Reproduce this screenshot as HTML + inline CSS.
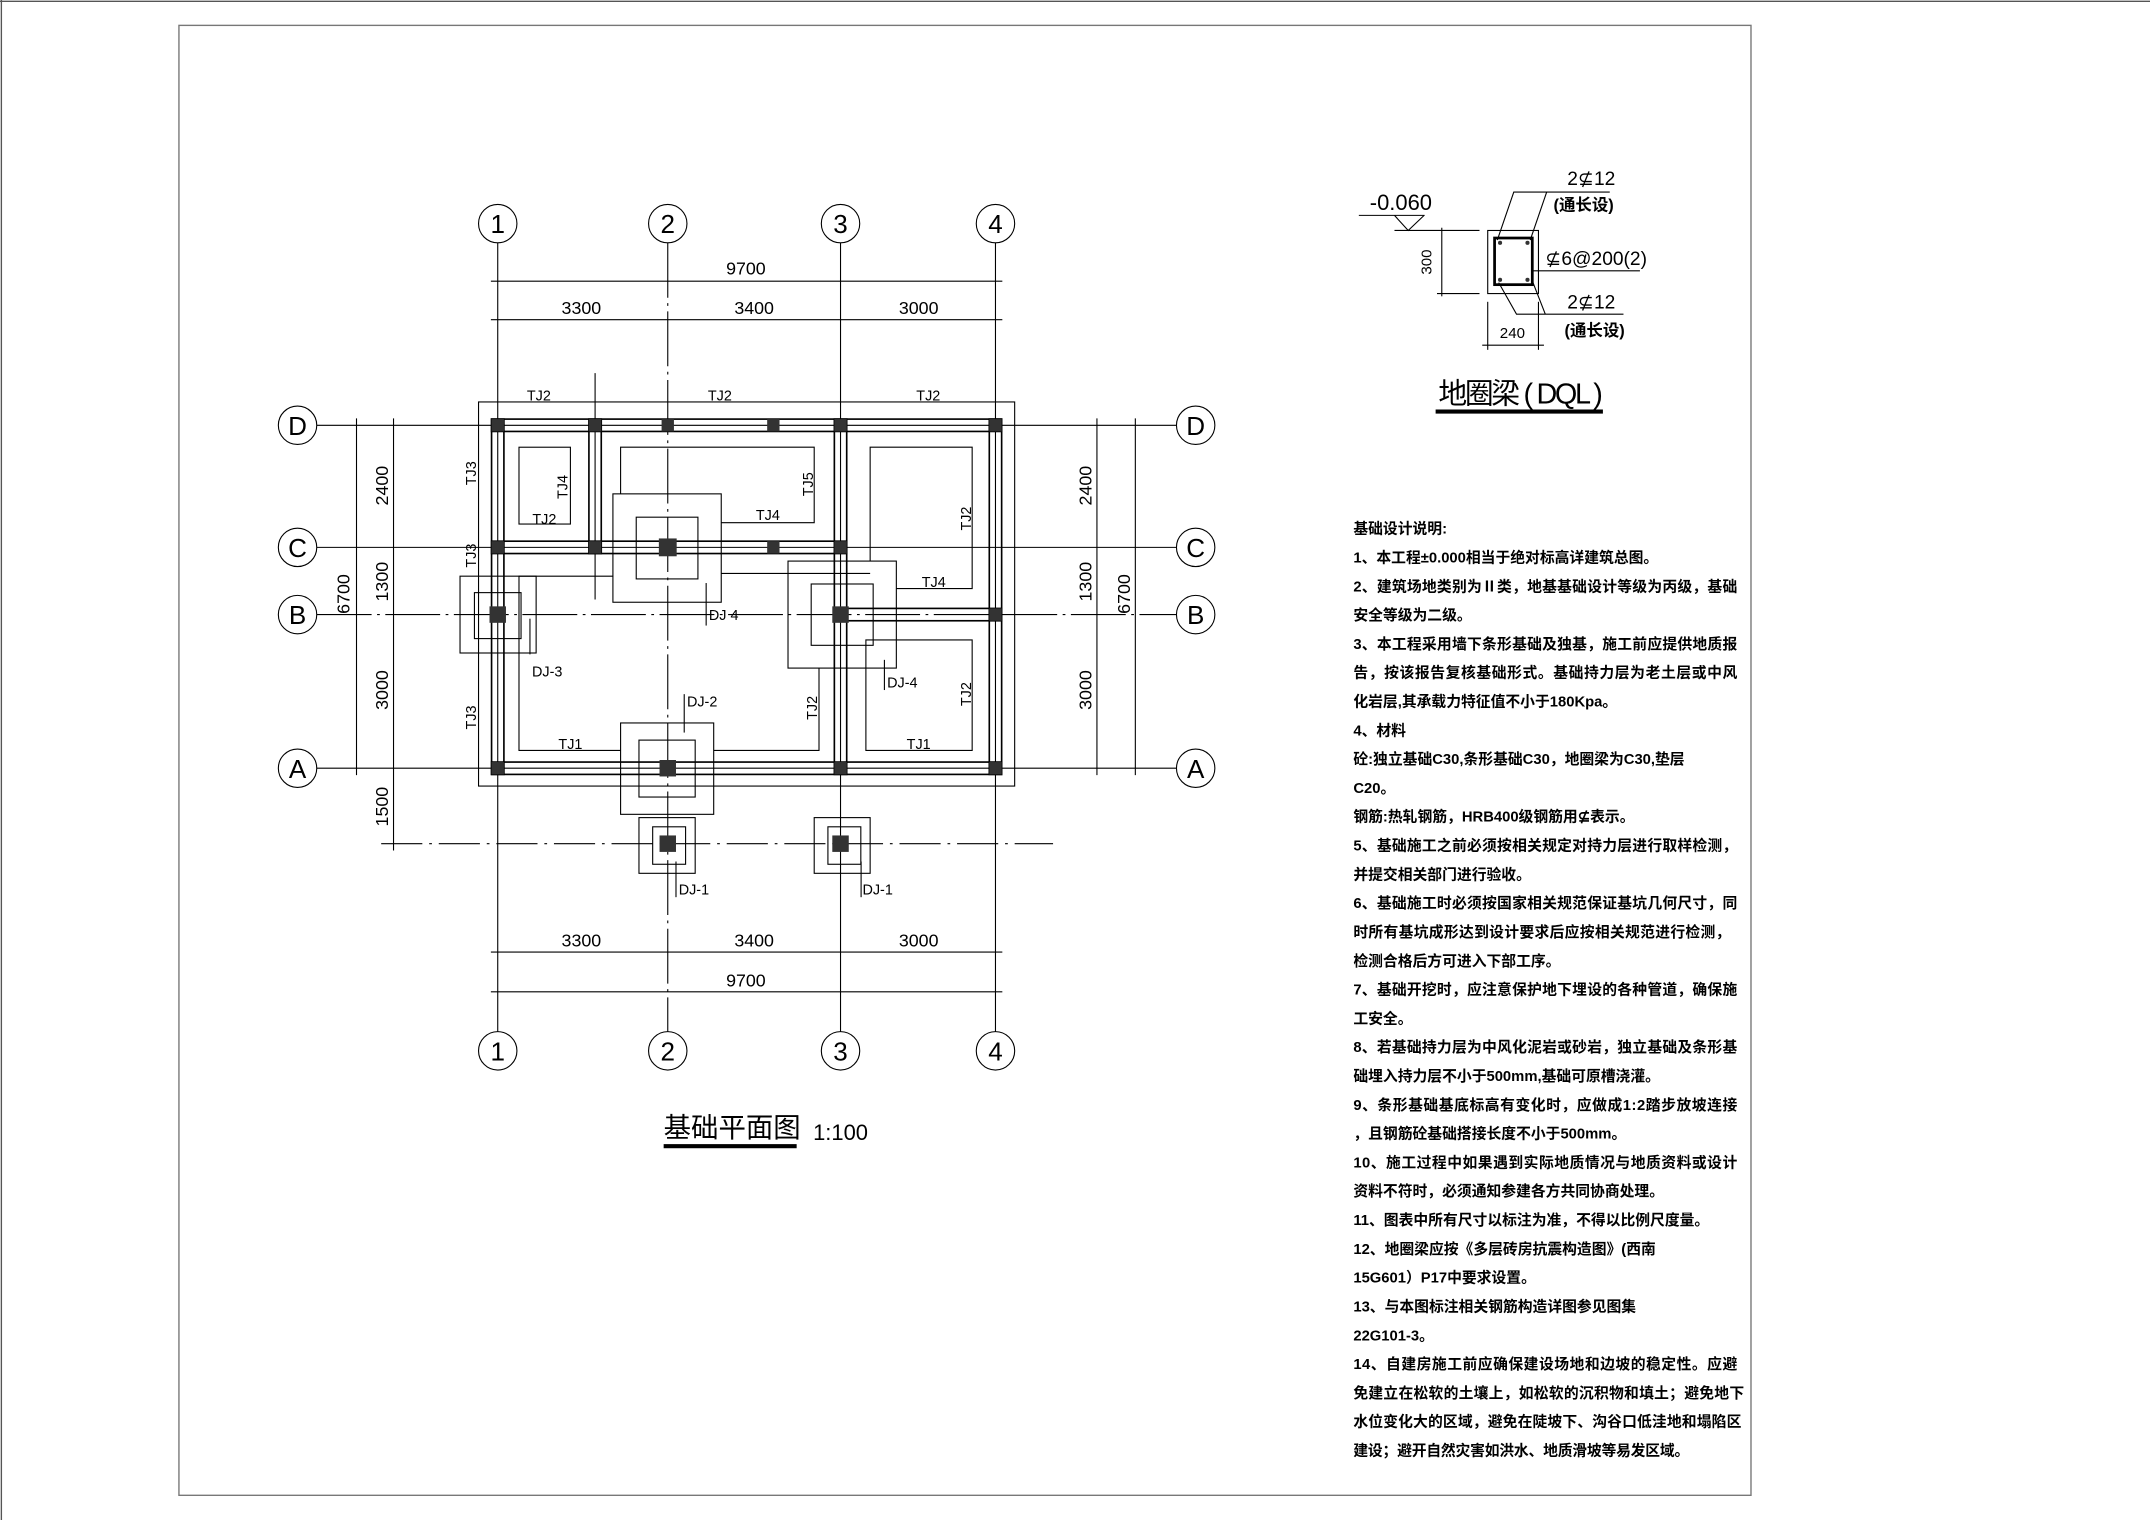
<!DOCTYPE html>
<html><head><meta charset="utf-8"><style>
html,body{margin:0;padding:0;background:#fff;}
svg{display:block;}
text{font-family:"Liberation Sans","Noto Sans CJK SC",sans-serif;fill:#000;}
.c{font-family:"Liberation Sans","Noto Sans CJK SC",sans-serif;}
</style></head><body>
<svg width="2150" height="1520" viewBox="0 0 1568 1108" preserveAspectRatio="none" xmlns="http://www.w3.org/2000/svg">
<rect x="0" y="0" width="1568" height="1108" fill="#fff"/>
<line x1="0" y1="1" x2="1568" y2="1" stroke="#555" stroke-width="1"/>
<line x1="1" y1="0" x2="1" y2="1108" stroke="#555" stroke-width="1"/>
<rect x="130.5" y="18.5" width="1146.5" height="1071.5" fill="none" stroke="#777" stroke-width="1"/>

<g stroke="#000" fill="none" stroke-width="0.8">
<line x1="363" y1="177" x2="363" y2="752"/>
<line x1="487" y1="177" x2="487" y2="752" stroke-dasharray="40 4 2 4"/>
<line x1="613" y1="177" x2="613" y2="752"/>
<line x1="726" y1="177" x2="726" y2="752"/>
<line x1="231" y1="310" x2="858" y2="310"/>
<line x1="231" y1="399" x2="858" y2="399"/>
<line x1="231" y1="448" x2="858" y2="448" stroke-dasharray="40 4 2 4"/>
<line x1="231" y1="560" x2="858" y2="560"/>
<line x1="278" y1="615" x2="768" y2="615" stroke-dasharray="30 5 2 5"/>
<line x1="358" y1="205" x2="731" y2="205"/>
<line x1="358" y1="233" x2="731" y2="233"/>
<line x1="358" y1="694" x2="731" y2="694"/>
<line x1="358" y1="723" x2="731" y2="723"/>
<line x1="260" y1="305" x2="260" y2="565"/>
<line x1="287" y1="305" x2="287" y2="620"/>
<line x1="800" y1="305" x2="800" y2="565"/>
<line x1="828" y1="305" x2="828" y2="565"/>
<circle cx="363" cy="163" r="14"/><circle cx="487" cy="163" r="14"/><circle cx="613" cy="163" r="14"/><circle cx="726" cy="163" r="14"/>
<circle cx="363" cy="766" r="14"/><circle cx="487" cy="766" r="14"/><circle cx="613" cy="766" r="14"/><circle cx="726" cy="766" r="14"/>
<circle cx="217" cy="310" r="14"/><circle cx="217" cy="399" r="14"/><circle cx="217" cy="448" r="14"/><circle cx="217" cy="560" r="14"/>
<circle cx="872" cy="310" r="14"/><circle cx="872" cy="399" r="14"/><circle cx="872" cy="448" r="14"/><circle cx="872" cy="560" r="14"/>

<rect x="349" y="293" width="391" height="280"/>
<g stroke-width="1.2">
<rect x="358.5" y="305.5" width="372" height="9"/>
<rect x="358.5" y="555.5" width="372" height="9"/>
<rect x="358.5" y="394.5" width="259" height="9"/>
<rect x="608.5" y="443.5" width="122" height="9"/>
<rect x="358.5" y="305.5" width="9" height="259"/>
<rect x="721.5" y="305.5" width="9" height="259"/>
<rect x="608.5" y="305.5" width="9" height="259"/>
<rect x="429.5" y="305.5" width="9" height="98"/>
</g>
<line x1="434" y1="272" x2="434" y2="437"/>
<rect x="378.5" y="326" width="37.5" height="56"/>
<polyline points="452.6,360 452.6,326 593.8,326 593.8,381 526,381"/>
<line x1="526" y1="418" x2="634.6" y2="418"/>
<polyline points="634.6,409 634.6,326 709,326 709,429 653.7,429"/>
<polyline points="631.5,487 631.5,466.5 709,466.5 709,547 631.5,547 631.5,487"/>
<polyline points="447.3,420 378.5,420 378.5,547 452.6,547"/>
<polyline points="520.5,547 597.3,547 597.3,487"/>
<rect x="447" y="360" width="79" height="79"/><rect x="464" y="377" width="45" height="45"/>
<rect x="574.7" y="409" width="79" height="78"/><rect x="591.6" y="425.7" width="45.2" height="44.7"/>
<rect x="335.5" y="420" width="55.5" height="56"/><rect x="346" y="432" width="34" height="33.5"/>
<rect x="452.6" y="527" width="67.9" height="66.6"/><rect x="466" y="539.5" width="41" height="41.5"/>
<rect x="466" y="596" width="41" height="40.6"/><rect x="476" y="602.7" width="24" height="27.3"/>
<rect x="593.8" y="596" width="40.8" height="40.6"/><rect x="603.8" y="602.7" width="24" height="27.3"/>
<line x1="515" y1="425" x2="515" y2="456"/>
<line x1="386.5" y1="451" x2="386.5" y2="477"/>
<line x1="499" y1="506" x2="499" y2="534"/>
<line x1="645" y1="481" x2="645" y2="503"/>
<line x1="493" y1="628" x2="493" y2="654"/>
<line x1="628" y1="628" x2="628" y2="654"/>

<!-- section -->
<line x1="991" y1="157" x2="1039" y2="157"/>
<polyline points="1017,157 1027,168 1038.6,157"/>
<line x1="1017" y1="168" x2="1079" y2="168"/>
<line x1="1048" y1="214" x2="1079" y2="214"/>
<line x1="1051.5" y1="166" x2="1051.5" y2="216"/>
<rect x="1085" y="168" width="37" height="46"/>
<rect x="1090" y="173.5" width="27.5" height="34" stroke-width="2"/>
<line x1="1085" y1="220" x2="1085" y2="255"/><line x1="1122" y1="220" x2="1122" y2="255"/>
<line x1="1081" y1="251.6" x2="1126" y2="251.6"/>
<polyline points="1092,175 1104,140 1174,140"/>
<line x1="1116" y1="175" x2="1128" y2="140"/>
<line x1="1117" y1="197.4" x2="1196" y2="197.4"/>
<polyline points="1093,206 1106,229 1184,229"/>
<line x1="1118" y1="206" x2="1127" y2="229"/>
</g>
<g fill="#333">
<rect x="358.5" y="305.5" width="9" height="9"/><rect x="429.5" y="305.5" width="9" height="9"/><rect x="482.5" y="305.5" width="9" height="9"/><rect x="559.5" y="305.5" width="9" height="9"/><rect x="608.5" y="305.5" width="9" height="9"/><rect x="721.5" y="305.5" width="9" height="9"/>
<rect x="358.5" y="394.5" width="9" height="9"/><rect x="429.5" y="394.5" width="9" height="9"/><rect x="480.5" y="392.5" width="13" height="13"/><rect x="559.5" y="394.5" width="9" height="9"/><rect x="608.5" y="394.5" width="9" height="9"/>
<rect x="357" y="442" width="12" height="12"/><rect x="607" y="442" width="12" height="12"/><rect x="721.5" y="443.5" width="9" height="9"/>
<rect x="358.5" y="555.5" width="9" height="9"/><rect x="481" y="554" width="12" height="12"/><rect x="608.5" y="555.5" width="9" height="9"/><rect x="721.5" y="555.5" width="9" height="9"/>
<rect x="481" y="609" width="12" height="12"/><rect x="607" y="609" width="12" height="12"/>
<circle cx="1094" cy="177" r="1.5"/><circle cx="1114" cy="177" r="1.5"/><circle cx="1094" cy="204" r="1.5"/><circle cx="1114" cy="204" r="1.5"/>
</g>

<g font-size="19" text-anchor="middle">
<text x="363" y="170">1</text><text x="487" y="170">2</text><text x="613" y="170">3</text><text x="726" y="170">4</text>
<text x="363" y="773">1</text><text x="487" y="773">2</text><text x="613" y="773">3</text><text x="726" y="773">4</text>
<text x="217" y="317">D</text><text x="217" y="406">C</text><text x="217" y="455">B</text><text x="217" y="567">A</text>
<text x="872" y="317">D</text><text x="872" y="406">C</text><text x="872" y="455">B</text><text x="872" y="567">A</text>
</g>
<g font-size="13" text-anchor="middle">
<text x="544" y="200">9700</text>
<text x="424" y="229">3300</text><text x="550" y="229">3400</text><text x="670" y="229">3000</text>
<text x="424" y="690">3300</text><text x="550" y="690">3400</text><text x="670" y="690">3000</text>
<text x="544" y="719">9700</text>
<text transform="translate(283,354) rotate(-90)">2400</text>
<text transform="translate(283,424) rotate(-90)">1300</text>
<text transform="translate(283,503) rotate(-90)">3000</text>
<text transform="translate(283,588) rotate(-90)">1500</text>
<text transform="translate(255,433) rotate(-90)">6700</text>
<text transform="translate(796,354) rotate(-90)">2400</text>
<text transform="translate(796,424) rotate(-90)">1300</text>
<text transform="translate(796,503) rotate(-90)">3000</text>
<text transform="translate(824,433) rotate(-90)">6700</text>
</g>
<g font-size="10.5" text-anchor="middle">
<text x="393" y="292">TJ2</text><text x="525" y="292">TJ2</text><text x="677" y="292">TJ2</text>
<text transform="translate(347,345) rotate(-90)">TJ3</text>
<text transform="translate(347,405) rotate(-90)">TJ3</text>
<text transform="translate(347,523) rotate(-90)">TJ3</text>
<text transform="translate(414,355) rotate(-90)">TJ4</text>
<text x="397" y="382">TJ2</text>
<text transform="translate(593,353) rotate(-90)">TJ5</text>
<text x="560" y="379">TJ4</text>
<text transform="translate(708,378) rotate(-90)">TJ2</text>
<text x="681" y="428">TJ4</text>
<text transform="translate(596,516) rotate(-90)">TJ2</text>
<text transform="translate(708,506) rotate(-90)">TJ2</text>
<text x="416" y="546">TJ1</text><text x="670" y="546">TJ1</text>
</g>
<g font-size="10.5">
<text x="517" y="452">DJ 4</text><text x="388" y="493">DJ-3</text><text x="501" y="515">DJ-2</text><text x="647" y="501">DJ-4</text>
<text x="495" y="652">DJ-1</text><text x="629" y="652">DJ-1</text>
</g>
<text x="484" y="829" font-size="20" class="c">基础平面图</text>
<rect x="484" y="834" width="97" height="3" fill="#000"/>
<text x="593" y="831" font-size="16">1:100</text>

<g font-size="14">
<text x="999" y="153" font-size="16">-0.060</text>
<text x="1143" y="135" font-size="14">2⊈12</text>
<text x="1127" y="193" font-size="14">⊈6@200(2)</text>
<text x="1143" y="225" font-size="14">2⊈12</text>
<text x="1103" y="246.5" font-size="11" text-anchor="middle">240</text>
<text transform="translate(1044,191) rotate(-90)" font-size="11" text-anchor="middle">300</text>
</g>
<g font-size="12" font-weight="bold">
<text x="1133" y="153.6">(通长设)</text>
<text x="1141" y="245">(通长设)</text>
</g>
<text x="1049" y="294" font-size="21" textLength="120">地圈梁 ( DQL )</text>
<rect x="1047" y="298.5" width="122" height="3" fill="#000"/>

<g font-size="10.8" font-weight="bold">
<text x="987" y="389">基础设计说明:</text>
<text x="987" y="410">1、本工程±0.000相当于绝对标高详建筑总图。</text>
<text x="987" y="431" textLength="280">2、建筑场地类别为Ⅱ类，地基基础设计等级为丙级，基础</text>
<text x="987" y="452">安全等级为二级。</text>
<text x="987" y="473" textLength="280">3、本工程采用墙下条形基础及独基，施工前应提供地质报</text>
<text x="987" y="494" textLength="280">告，按该报告复核基础形式。基础持力层为老土层或中风</text>
<text x="987" y="515">化岩层,其承载力特征值不小于180Kpa。</text>
<text x="987" y="536">4、材料</text>
<text x="987" y="557">砼:独立基础C30,条形基础C30，地圈梁为C30,垫层</text>
<text x="987" y="578">C20。</text>
<text x="987" y="599">钢筋:热轧钢筋，HRB400级钢筋用⊈表示。</text>
<text x="987" y="620" textLength="280">5、基础施工之前必须按相关规定对持力层进行取样检测，</text>
<text x="987" y="641">并提交相关部门进行验收。</text>
<text x="987" y="662" textLength="280">6、基础施工时必须按国家相关规范保证基坑几何尺寸，同</text>
<text x="987" y="683" textLength="275">时所有基坑成形达到设计要求后应按相关规范进行检测，</text>
<text x="987" y="704">检测合格后方可进入下部工序。</text>
<text x="987" y="725" textLength="280">7、基础开挖时，应注意保护地下埋设的各种管道，确保施</text>
<text x="987" y="746">工安全。</text>
<text x="987" y="767" textLength="280">8、若基础持力层为中风化泥岩或砂岩，独立基础及条形基</text>
<text x="987" y="788">础埋入持力层不小于500mm,基础可原槽浇灌。</text>
<text x="987" y="809" textLength="280">9、条形基础基底标高有变化时，应做成1:2踏步放坡连接</text>
<text x="987" y="830">，且钢筋砼基础搭接长度不小于500mm。</text>
<text x="987" y="851" textLength="280">10、施工过程中如果遇到实际地质情况与地质资料或设计</text>
<text x="987" y="872">资料不符时，必须通知参建各方共同协商处理。</text>
<text x="987" y="893">11、图表中所有尺寸以标注为准，不得以比例尺度量。</text>
<text x="987" y="914">12、地圈梁应按《多层砖房抗震构造图》(西南</text>
<text x="987" y="935">15G601）P17中要求设置。</text>
<text x="987" y="956">13、与本图标注相关钢筋构造详图参见图集</text>
<text x="987" y="977">22G101-3。</text>
<text x="987" y="998" textLength="280">14、自建房施工前应确保建设场地和边坡的稳定性。应避</text>
<text x="987" y="1019" textLength="285">免建立在松软的土壤上，如松软的沉积物和填土；避免地下</text>
<text x="987" y="1040" textLength="283">水位变化大的区域，避免在陡坡下、沟谷口低洼地和塌陷区</text>
<text x="987" y="1061" textLength="245">建设；避开自然灾害如洪水、地质滑坡等易发区域。</text>
</g>
</svg>
</body></html>
